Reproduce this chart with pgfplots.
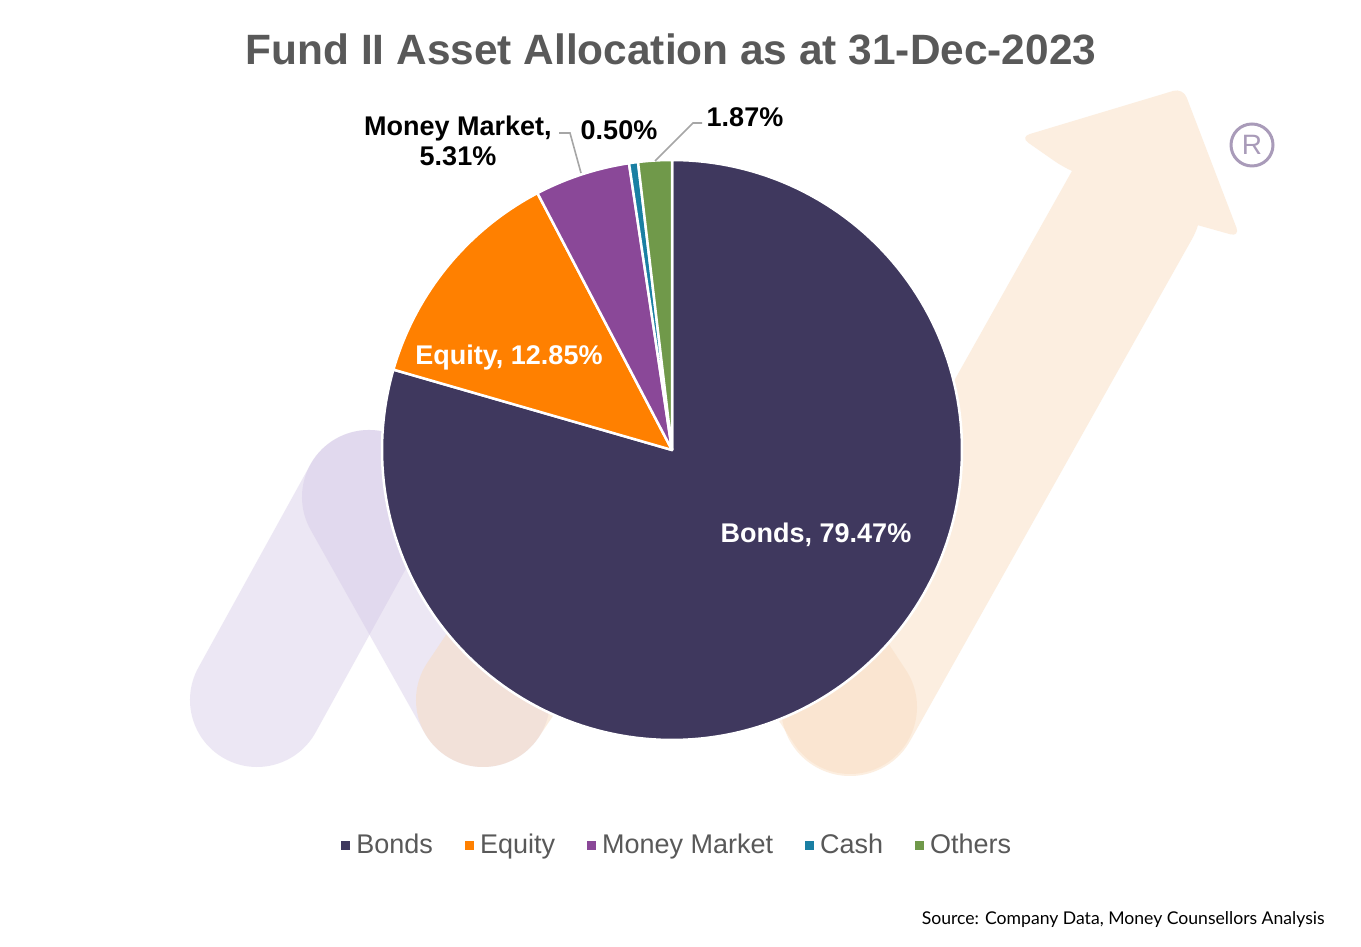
\documentclass[border=0pt]{standalone}
\usepackage{fontspec}
\setmainfont{Liberation Sans}
\newfontfamily\srcfont{Lato}
\usepackage{pgfplots}
\usepackage{pgfplotstable}
\pgfplotsset{compat=1.18}
\definecolor{cBonds}{HTML}{3F385E}
\definecolor{cEquity}{HTML}{FF8000}
\definecolor{cMM}{HTML}{8A4898}
\definecolor{cCash}{HTML}{1A7FA3}
\definecolor{cOthers}{HTML}{70994A}
\definecolor{cTitle}{HTML}{595959}
\definecolor{wmL}{HTML}{D4C8E6}
\definecolor{wmP}{HTML}{F9DCC0}
\definecolor{wmA}{HTML}{FCEEE0}
\definecolor{rcol}{HTML}{A99BB9}
\definecolor{lead}{HTML}{A6A6A6}

\pgfplotstableread{
name value
Bonds 79.47
Equity 12.85
MoneyMarket 5.31
Cash 0.50
Others 1.87
}\piedata

\begin{document}
\begin{tikzpicture}[x=0.5pt,y=0.5pt]
\pgfplotstablegetelem{0}{value}\of\piedata \let\vA\pgfplotsretval
\pgfplotstablegetelem{1}{value}\of\piedata \let\vB\pgfplotsretval
\pgfplotstablegetelem{2}{value}\of\piedata \let\vC\pgfplotsretval
\pgfplotstablegetelem{3}{value}\of\piedata \let\vD\pgfplotsretval
\pgfplotstablegetelem{4}{value}\of\piedata \let\vE\pgfplotsretval
\pgfmathsetmacro\aA{90-3.6*\vA}
\pgfmathsetmacro\aB{\aA-3.6*\vB}
\pgfmathsetmacro\aC{\aB-3.6*\vC}
\pgfmathsetmacro\aD{\aC-3.6*\vD}
\pgfmathsetmacro\aE{\aD-3.6*\vE}

\path[use as bounding box, fill=white] (0,0) rectangle (1361,947);

% watermark logo
\begin{scope}[line cap=round]
\draw[wmL, opacity=0.42, line width=67pt] (257,247) -- (369,450);
\draw[wmL, opacity=0.42, line width=67pt] (369,450) -- (483,247);
\draw[wmP, opacity=0.5, line width=67pt] (483,247) -- (666,520);
\draw[wmA, line width=69pt] (850,240) -- (1132,742);
\fill[wmA, rounded corners=5pt] (1183,859) -- (1240,710) -- (1190,724) -- (1063,780) -- (1020,810) -- cycle;
\draw[wmP, opacity=0.45, line width=67pt] (666,520) -- (850,240);
\end{scope}
\draw[rcol, line width=1.5pt] (1252,802) circle (21);
\node[text=rcol, font=\fontsize{14}{14}\selectfont] at (1252,802) {R};

\begin{axis}[at={(336pt,248.5pt)}, anchor=center,
  width=290pt, height=290pt, scale only axis,
  xmin=-1, xmax=1, ymin=-1, ymax=1,
  hide axis, clip=false,
  legend columns=5,
  legend style={at={(axis cs:0.02,-1.362)}, anchor=center, draw=none, fill=none,
    font=\fontsize{13.5}{16}\selectfont, text=cTitle,
    /tikz/every even column/.append style={column sep=14.5pt},
    nodes={inner sep=1.5pt}},
  legend image code/.code={\fill[#1,draw=none] (0pt,-2.6pt) rectangle (4.5pt,1.9pt); \path[draw=none,fill=none] (0pt,0pt) -- (6pt,0pt);},
]
\addplot[fill=cBonds, draw=white, line width=1.25pt, line join=round, domain=\aA:90, samples=180] ({cos(x)},{sin(x)}) -- (axis cs:0,0) -- cycle;
\addlegendentry{Bonds}
\addplot[fill=cEquity, draw=white, line width=1.25pt, line join=round, domain=\aB:\aA, samples=40] ({cos(x)},{sin(x)}) -- (axis cs:0,0) -- cycle;
\addlegendentry{Equity}
\addplot[fill=cMM, draw=white, line width=1.25pt, line join=round, domain=\aC:\aB, samples=20] ({cos(x)},{sin(x)}) -- (axis cs:0,0) -- cycle;
\addlegendentry{Money Market}
\addplot[fill=cCash, draw=white, line width=1.25pt, line join=round, domain=\aD:\aC, samples=5] ({cos(x)},{sin(x)}) -- (axis cs:0,0) -- cycle;
\addlegendentry{Cash}
\addplot[fill=cOthers, draw=white, line width=1.25pt, line join=round, domain=\aE:\aD, samples=10] ({cos(x)},{sin(x)}) -- (axis cs:0,0) -- cycle;
\addlegendentry{Others}
\end{axis}

% title
\node[anchor=base, text=cTitle, font=\bfseries\fontsize{21.2}{25}\selectfont] at (671,882) {Fund II Asset Allocation as at 31-Dec-2023};

% data labels
\node[anchor=base, text=white, font=\bfseries\fontsize{13.5}{15}\selectfont] at (816,404) {Bonds, 79.47\%};
\node[anchor=base, text=white, font=\bfseries\fontsize{13.5}{15}\selectfont] at (509,582) {Equity, 12.85\%};
\node[anchor=base, text=black, font=\bfseries\fontsize{13.5}{15}\selectfont] at (458,811) {Money Market,};
\node[anchor=base, text=black, font=\bfseries\fontsize{13.5}{15}\selectfont] at (458,781) {5.31\%};
\node[anchor=base, text=black, font=\bfseries\fontsize{13.5}{15}\selectfont] at (619,807) {0.50\%};
\node[anchor=base, text=black, font=\bfseries\fontsize{13.5}{15}\selectfont] at (745,820) {1.87\%};
\draw[lead, line width=0.8pt] (559,814) -- (570,814) -- (581,774);
\draw[lead, line width=0.8pt] (702,824) -- (693,824) -- (655,786);

% source
\node[anchor=base east, inner sep=0pt, font=\srcfont\fontsize{8.8}{11}\selectfont] at (1325,22) {Source: Company Data, Money Counsellors Analysis};
\end{tikzpicture}
\end{document}
